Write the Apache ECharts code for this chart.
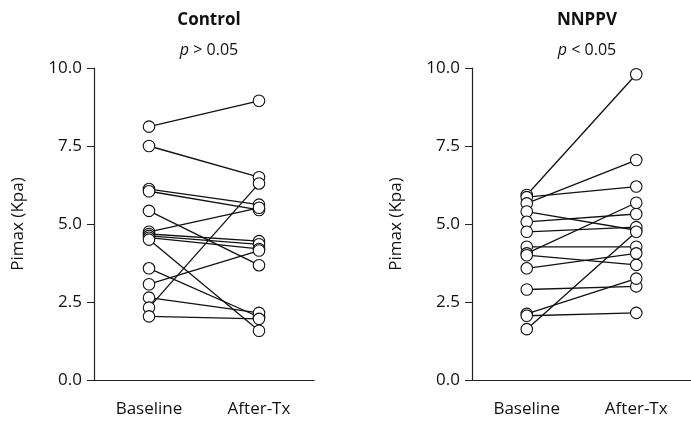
<!DOCTYPE html>
<html>
<head>
<meta charset="utf-8">
<script src="https://cdn.jsdelivr.net/npm/echarts@6/dist/echarts.min.js"></script>
<style>
html,body{margin:0;padding:0;background:#fff;}
#chart{width:691px;height:423px;}
</style>
</head>
<body>
<div id="chart"></div>
<script>
var categories = ['Baseline', 'After-Tx'];
var yTicks = [0, 2.5, 5, 7.5, 10];
var panelTitles = ['Control', 'NNPPV'];
var panelP = ['> 0.05', '< 0.05'];

var controlBaseline = [8.12, 7.5, 6.12, 6.05, 5.42, 4.75, 4.68, 4.62, 4.56, 4.5, 3.58, 3.07, 2.64, 2.32, 2.04];
var controlAfter    = [8.95, 6.5, 5.62, 5.45, 3.68, 5.52, 4.45, 4.35, 4.2, 1.58, 2.02, 4.15, 2.15, 6.3, 1.96];

var nnppvBaseline = [5.93, 5.86, 5.66, 5.4, 5.07, 4.75, 4.27, 4.06, 4.0, 3.58, 2.9, 2.12, 2.06, 1.63];
var nnppvAfter    = [9.8, 6.2, 7.05, 4.8, 5.32, 4.9, 4.27, 5.68, 3.69, 4.06, 3.0, 3.25, 2.15, 4.75];

var FONT = 'Open Sans';
var grids = [
  {left: 94, top: 68, width: 220, height: 312},
  {left: 472, top: 68, width: 220, height: 312}
];

function makeSeries(base, after, idx) {
  return base.map(function (b, i) {
    return {
      type: 'line',
      xAxisIndex: idx, yAxisIndex: idx,
      data: [b, after[i]],
      symbol: 'circle', symbolSize: 11.5,
      itemStyle: {color: '#fff', borderColor: '#111', borderWidth: 1.1},
      lineStyle: {color: '#111', width: 1.3},
      emphasis: {disabled: true},
      silent: true, animation: false, z: 2
    };
  });
}

var xAxes = [0, 1].map(function (i) {
  return {
    type: 'category', gridIndex: i, data: categories, boundaryGap: true,
    axisLine: {lineStyle: {color: '#222', width: 1.2}},
    axisTick: {alignWithLabel: true, length: 7, lineStyle: {color: '#222'}},
    axisLabel: {color: '#111', fontSize: 17, fontFamily: FONT, margin: 21}
  };
});
var yAxes = [0, 1].map(function (i) {
  return {
    type: 'value', gridIndex: i, min: 0, max: 10, interval: 2.5,
    name: 'Pimax (Kpa)', nameLocation: 'middle', nameRotate: 90, nameGap: 67,
    nameTextStyle: {color: '#111', fontSize: 17, fontFamily: FONT},
    axisLine: {show: true, lineStyle: {color: '#222', width: 1.2}},
    axisTick: {show: true, length: 7, lineStyle: {color: '#222'}},
    splitLine: {show: false},
    axisLabel: {color: '#111', fontSize: 17, fontFamily: FONT, margin: 12,
      formatter: function (v) { return yTicks.indexOf(v) >= 0 ? v.toFixed(1) : ''; }}
  };
});

var titles = [];
[0, 1].forEach(function (i) {
  var cx = grids[i].left + grids[i].width / 2;
  titles.push({
    text: panelTitles[i], left: cx, top: 7, textAlign: 'center',
    textStyle: {fontSize: 17, fontWeight: 'bold', color: '#111', fontFamily: FONT}
  });
  titles.push({
    text: '{i|p} ' + panelP[i], left: cx, top: 37, textAlign: 'center',
    textStyle: {fontSize: 16, color: '#111', fontFamily: FONT, fontWeight: 'normal',
      rich: {i: {fontStyle: 'italic', fontSize: 16, color: '#111', fontFamily: FONT}}}
  });
});

var chart = echarts.init(document.getElementById('chart'));
chart.setOption({
  animation: false,
  backgroundColor: '#fff',
  title: titles,
  grid: grids,
  xAxis: xAxes,
  yAxis: yAxes,
  series: makeSeries(controlBaseline, controlAfter, 0).concat(makeSeries(nnppvBaseline, nnppvAfter, 1))
});
</script>
</body>
</html>
